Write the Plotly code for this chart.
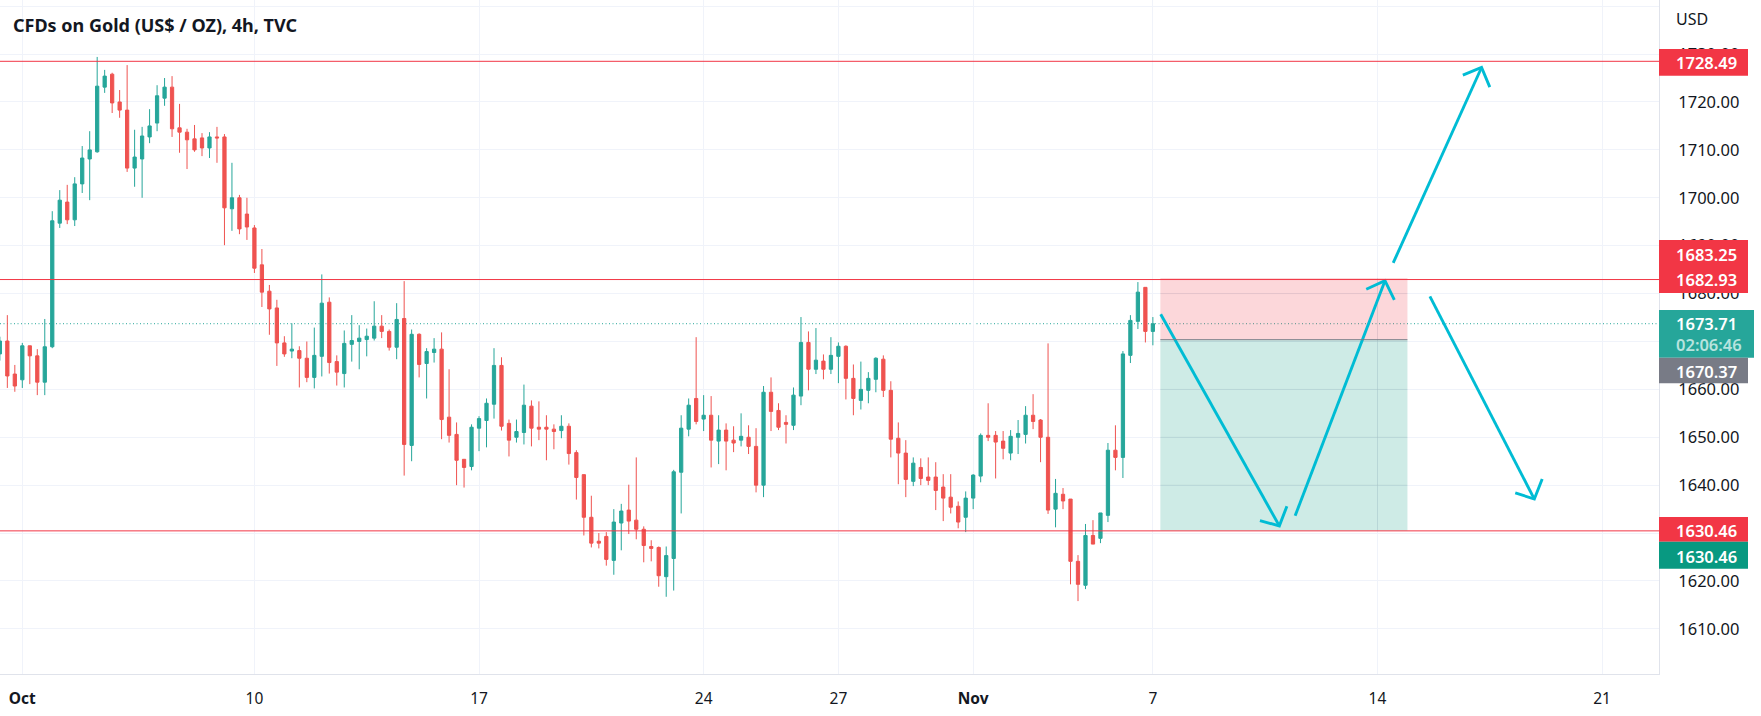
import plotly.graph_objects as go

TITLE = "CFDs on Gold (US$ / OZ), 4h, TVC"
tick_positions = [0, 31, 61, 91, 109, 127, 151, 181, 211]
tick_labels = ["<b>Oct</b>", "10", "17", "24", "27", "<b>Nov</b>", "7", "14", "21"]
price_ticks = [1610, 1620, 1630, 1640, 1650, 1660, 1670, 1680, 1690, 1700, 1710, 1720, 1730, 1740]

first_bar = -3
opens = [1667.4,1670.1,1663.2,1662.0,1669.1,1667.0,1661.5,1668.9,1694.7,1699.1,1695.4,1702.9,1708.1,1709.6,1723.1,1725.8,1720.0,1718.3,1706.2,1708.1,1712.7,1715.6,1720.8,1723.1,1714.6,1713.7,1712.3,1712.5,1710.4,1712.7,1712.7,1697.7,1700.0,1696.6,1693.7,1686.0,1680.5,1677.0,1669.7,1668.0,
1668.1,1666.5,1662.5,1666.9,1678.2,1665.8,1663.3,1669.4,1670.0,1670.4,1670.7,1673.2,1672.1,1668.8,1674.8,1648.3,1671.5,1665.4,1667.7,1668.4,1654.2,1650.6,1645.4,1643.9,1651.9,1653.5,1656.9,1665.0,1652.9,1650.0,1651.0,1656.5,1652.1,1652.1,1651.7,1651.4,1652.3,1646.8,
1642.2,1633.3,1628.3,1629.3,1624.3,1632.1,1634.8,1632.7,1630.8,1627.2,1627.0,1620.9,1624.7,1642.7,1651.7,1658.1,1653.8,1654.6,1649.2,1651.5,1649.4,1649.4,1650.0,1648.1,1640.0,1659.4,1655.6,1653.1,1652.5,1658.6,1669.8,1664.2,1665.9,1664.2,1666.9,1669.0,1662.3,1657.7,1659.8,
1662.1,1666.3,1659.8,1649.8,1646.7,1640.8,1643.7,1641.7,1641.7,1639.6,1637.5,1635.6,1633.3,1637.3,1641.9,1650.4,1650.4,1649.2,1646.7,1650.0,1650.6,1654.6,1653.6,1650.0,1635.0,1638.1,1637.1,1624.1,1619.1,1629.5,1628.9,1633.7,1647.3,1645.8,1667.1,1674.2,1681.3,1672.1]
highs = [1671.0,1675.5,1665.1,1669.7,1669.1,1668.4,1674.7,1697.2,1701.6,1702.7,1704.3,1710.8,1713.9,1729.4,1726.7,1726.1,1722.5,1727.7,1714.2,1714.8,1718.5,1723.5,1725.0,1725.4,1719.6,1714.4,1715.2,1713.5,1713.7,1714.8,1713.3,1707.3,1700.6,1700.0,1694.3,1689.3,1681.8,1678.7,1671.1,1673.8,
1669.0,1670.0,1672.9,1684.0,1679.2,1667.1,1672.3,1675.5,1673.4,1672.7,1678.4,1675.5,1672.5,1678.0,1682.6,1672.5,1671.7,1668.6,1670.7,1671.9,1664.2,1653.1,1645.4,1652.7,1654.4,1658.1,1668.6,1666.7,1653.7,1653.7,1661.0,1657.7,1657.5,1654.6,1652.7,1654.6,1652.9,1647.3,
1642.2,1637.8,1630.0,1630.2,1635.0,1636.1,1640.1,1645.8,1631.4,1628.5,1627.2,1627.2,1643.2,1654.6,1658.1,1670.9,1658.8,1658.6,1654.6,1652.9,1652.3,1655.0,1652.5,1651.9,1660.7,1662.5,1657.1,1654.6,1660.4,1675.1,1672.1,1672.8,1667.3,1670.9,1669.8,1669.2,1665.2,1665.8,1663.6,
1666.7,1667.1,1661.7,1653.1,1649.4,1645.8,1645.6,1645.8,1644.8,1642.3,1642.3,1636.6,1638.7,1642.3,1650.8,1657.1,1651.3,1651.3,1651.5,1653.6,1656.5,1659.0,1653.8,1669.6,1641.3,1639.4,1637.1,1625.4,1631.9,1632.7,1634.2,1648.8,1652.5,1668.0,1675.5,1682.4,1681.3,1675.1]
lows = [1666.0,1660.3,1659.5,1660.3,1661.1,1658.8,1658.8,1668.6,1693.7,1694.5,1694.1,1701.0,1699.5,1709.4,1721.9,1717.7,1716.7,1705.4,1702.3,1700.0,1711.4,1713.9,1719.2,1712.7,1709.4,1706.0,1709.6,1708.7,1708.3,1707.3,1690.1,1693.1,1692.4,1691.2,1684.3,1677.2,1671.4,1664.9,1666.8,1666.5,
1660.4,1661.5,1660.2,1662.7,1663.3,1660.8,1660.4,1665.8,1664.2,1666.9,1670.2,1670.7,1668.1,1666.3,1642.0,1645.0,1662.5,1658.1,1665.6,1649.6,1648.9,1640.0,1639.5,1643.1,1647.1,1647.9,1653.9,1651.4,1646.0,1648.9,1648.5,1648.1,1649.4,1645.2,1647.5,1649.8,1644.3,1637.0,
1629.5,1627.0,1626.8,1623.2,1621.3,1626.4,1629.8,1628.7,1623.9,1624.1,1618.8,1616.7,1618.0,1634.1,1650.2,1652.7,1651.3,1643.7,1644.4,1643.1,1646.9,1648.1,1646.5,1638.5,1637.5,1651.3,1651.5,1648.7,1651.5,1656.7,1659.8,1663.2,1662.1,1663.2,1661.3,1657.9,1654.6,1655.8,1657.1,
1659.4,1658.4,1645.8,1640.2,1637.5,1639.8,1640.0,1640.0,1634.8,1632.5,1634.1,1631.0,1630.2,1635.0,1640.6,1649.2,1641.4,1645.4,1645.2,1646.5,1648.7,1651.7,1644.8,1634.0,1631.2,1635.0,1619.3,1615.8,1618.3,1627.7,1627.9,1632.3,1643.1,1641.5,1665.5,1672.6,1669.8,1669.2]
closes = [1670.1,1662.8,1660.7,1669.1,1667.0,1661.5,1668.9,1695.2,1699.5,1695.4,1702.9,1708.3,1710.0,1723.3,1725.4,1719.8,1718.3,1706.2,1708.5,1712.9,1715.0,1721.3,1723.1,1714.4,1713.7,1712.1,1710.0,1710.4,1712.7,1712.5,1697.9,1700.0,1693.5,1693.9,1685.3,1680.3,1676.8,1669.7,1667.4,1668.4,
1666.5,1662.5,1667.1,1678.0,1665.6,1663.6,1669.6,1670.2,1670.7,1671.1,1673.2,1672.1,1668.8,1674.6,1648.5,1671.5,1665.2,1667.9,1668.4,1653.7,1650.4,1645.2,1643.7,1652.1,1653.9,1657.1,1665.0,1652.3,1649.4,1651.2,1656.7,1651.9,1651.7,1651.7,1651.2,1652.3,1646.6,1641.6,
1633.3,1627.9,1627.9,1624.5,1632.3,1634.6,1632.5,1630.8,1627.4,1626.8,1621.1,1625.3,1642.8,1651.9,1656.7,1653.3,1654.6,1649.4,1651.5,1649.2,1648.8,1650.2,1648.1,1640.0,1659.4,1655.4,1652.1,1652.7,1658.8,1669.8,1664.2,1666.1,1664.2,1667.1,1669.0,1662.3,1658.1,1660.0,1662.3,
1666.5,1659.8,1649.6,1646.7,1641.2,1644.6,1641.4,1641.0,1638.9,1637.3,1635.4,1632.3,1637.3,1642.1,1650.4,1650.0,1649.0,1647.7,1650.2,1650.8,1654.6,1653.3,1650.0,1634.8,1638.3,1636.7,1624.1,1619.3,1629.5,1627.7,1634.2,1647.3,1645.8,1667.4,1674.4,1680.3,1672.1,1673.71]
bars = list(range(first_bar, first_bar + len(closes)))

level_high = 1728.49
level_mid = 1682.93
level_low = 1630.46
last_price = 1673.71
stop_price = 1683.25
entry_price = 1670.37
target_price = 1630.46
position_bars = [152, 185]

arrow_x = [152.05, 167.89, None, 165.3, 167.89, 168.9, None,
           170.0, 182.0, None, 179.5, 182.0, 183.25, None,
           183.1, 194.9, None, 192.4, 194.9, 196.0, None,
           188.0, 201.95, None, 199.4, 201.95, 203.0]
arrow_y = [1675.7, 1631.5, None, 1632.6, 1631.5, 1635.6, None,
           1633.6, 1682.7, None, 1680.9, 1682.7, 1678.7, None,
           1686.4, 1727.2, None, 1725.6, 1727.2, 1723.1, None,
           1679.4, 1637.1, None, 1638.4, 1637.1, 1641.3]

UP, DOWN = "#26A69A", "#EF5350"
RED, TEAL, GRAY, DTEAL = "#F23645", "#26A69A", "#787B86", "#089981"
INK, GRID, AXIS = "#131722", "#F0F3FA", "#E0E3EB"
FONT = "Noto Sans"
W, H = 1761, 716
PW, PH = 1659, 674

def px(x):
    return x / PW

def py(y):
    return 1 - y / PH

fig = go.Figure()
fig.add_trace(go.Candlestick(
    x=bars, open=opens, high=highs, low=lows, close=closes,
    increasing=dict(line=dict(color=UP, width=1), fillcolor=UP),
    decreasing=dict(line=dict(color=DOWN, width=1), fillcolor=DOWN),
    whiskerwidth=0, showlegend=False, hoverinfo="skip",
))
fig.add_trace(go.Scatter(
    x=arrow_x, y=arrow_y, mode="lines",
    line=dict(color="#00BCD4", width=2.9), showlegend=False, hoverinfo="skip",
    connectgaps=False,
))

shapes = [
    dict(type="rect", xref="x", yref="y", x0=position_bars[0], x1=position_bars[1],
         y0=entry_price, y1=stop_price, fillcolor="rgba(242,54,69,0.2)",
         line=dict(width=0), layer="between"),
    dict(type="rect", xref="x", yref="y", x0=position_bars[0], x1=position_bars[1],
         y0=target_price, y1=entry_price, fillcolor="rgba(8,153,129,0.2)",
         line=dict(width=0), layer="between"),
    dict(type="line", xref="x", yref="y", x0=position_bars[0], x1=position_bars[1],
         y0=entry_price, y1=entry_price, line=dict(color=GRAY, width=1), layer="above"),
]
# grid seen through the position box is visibly darker than elsewhere
for tick in price_ticks:
    if target_price < tick < stop_price:
        shapes.append(dict(type="line", xref="x", yref="y", x0=position_bars[0], x1=position_bars[1],
                           y0=tick, y1=tick, line=dict(color="rgba(0,0,0,0.05)", width=1), layer="between"))
shapes.append(dict(type="line", xref="x", yref="y", x0=tick_positions[7], x1=tick_positions[7],
                   y0=target_price, y1=stop_price, line=dict(color="rgba(0,0,0,0.05)", width=1), layer="between"))
for lv in (level_high, level_mid, level_low):
    shapes.append(dict(type="line", xref="paper", yref="y", x0=0, x1=1, y0=lv, y1=lv,
                       line=dict(color=RED, width=1), layer="above"))
shapes.append(dict(type="line", xref="paper", yref="y", x0=0, x1=1, y0=last_price, y1=last_price,
                   line=dict(color=TEAL, width=1, dash="1px,2.5px"), layer="between"))

# price tags: colour, pixel top, pixel bottom, pixel right, text, text y
tags = [
    (RED, 49, 75.7, 1748, f"{level_high:.2f}", 62.3),
    (RED, 240, 267, 1748, f"{stop_price:.2f}", 254),
    (RED, 266, 293, 1748, f"{level_mid:.2f}", 279.3),
    (TEAL, 310, 357.7, 1754, f"{last_price:.2f}", 324),
    (GRAY, 357.7, 383.3, 1748, f"{entry_price:.2f}", 371),
    (RED, 517, 541.7, 1748, f"{level_low:.2f}", 530.7),
    (DTEAL, 541.7, 568.7, 1748, f"{target_price:.2f}", 556),
]
annotations = []
for col, top, bot, right, txt, ty in tags:
    shapes.append(dict(type="rect", xref="paper", yref="paper", x0=1, x1=px(right),
                       y0=py(bot), y1=py(top), fillcolor=col, line=dict(width=0), layer="above"))
    annotations.append(dict(xref="paper", yref="paper", x=px(1675), y=py(ty), text=txt,
                            showarrow=False, xanchor="left", yanchor="middle",
                            font=dict(family=FONT, size=16.5, color="#FFFFFF", weight=600), borderpad=0))
annotations.append(dict(xref="paper", yref="paper", x=px(1675), y=py(344.3), text="02:06:46",
                        showarrow=False, xanchor="left", yanchor="middle",
                        font=dict(family=FONT, size=16.5, color="#B7E3DE", weight=600), borderpad=0))
annotations.append(dict(xref="paper", yref="paper", x=px(1675), y=py(19.5), text="USD",
                        showarrow=False, xanchor="left", yanchor="middle",
                        font=dict(family=FONT, size=16, color=INK), borderpad=0))
annotations.append(dict(xref="paper", yref="paper", x=px(12), y=py(25), text=f"<b>{TITLE}</b>",
                        showarrow=False, xanchor="left", yanchor="middle",
                        font=dict(family=FONT, size=18, color=INK), borderpad=0))

fig.update_layout(
    width=W, height=H, margin=dict(l=0, r=W - PW, t=0, b=H - PH),
    paper_bgcolor="#FFFFFF", plot_bgcolor="#FFFFFF", boxgap=0.38, showlegend=False,
    shapes=shapes, annotations=annotations, hovermode=False,
    font=dict(family=FONT, color=INK),
)
fig.update_xaxes(
    range=[-2.98, 218.6], rangeslider_visible=False, tickmode="array",
    tickvals=tick_positions, ticktext=tick_labels, showgrid=True, gridcolor=GRID, gridwidth=1,
    zeroline=False, showline=True, linecolor=AXIS, linewidth=1, ticks="",
    ticklabelstandoff=10, tickfont=dict(family=FONT, size=15.5, color=INK),
)
fig.update_yaxes(
    range=[1600.58, 1741.29], side="right", tickmode="array", tickvals=price_ticks,
    ticktext=[f"{v:.2f}" if v < 1740 else "" for v in price_ticks],
    showgrid=True, gridcolor=GRID, gridwidth=1, zeroline=False, showline=True,
    linecolor=AXIS, linewidth=1, ticks="", ticklabelstandoff=15,
    tickfont=dict(family=FONT, size=16.5, color=INK),
)
fig.write_html("out.html", config=dict(displayModeBar=False),
               post_script="document.body.style.margin='0';")
